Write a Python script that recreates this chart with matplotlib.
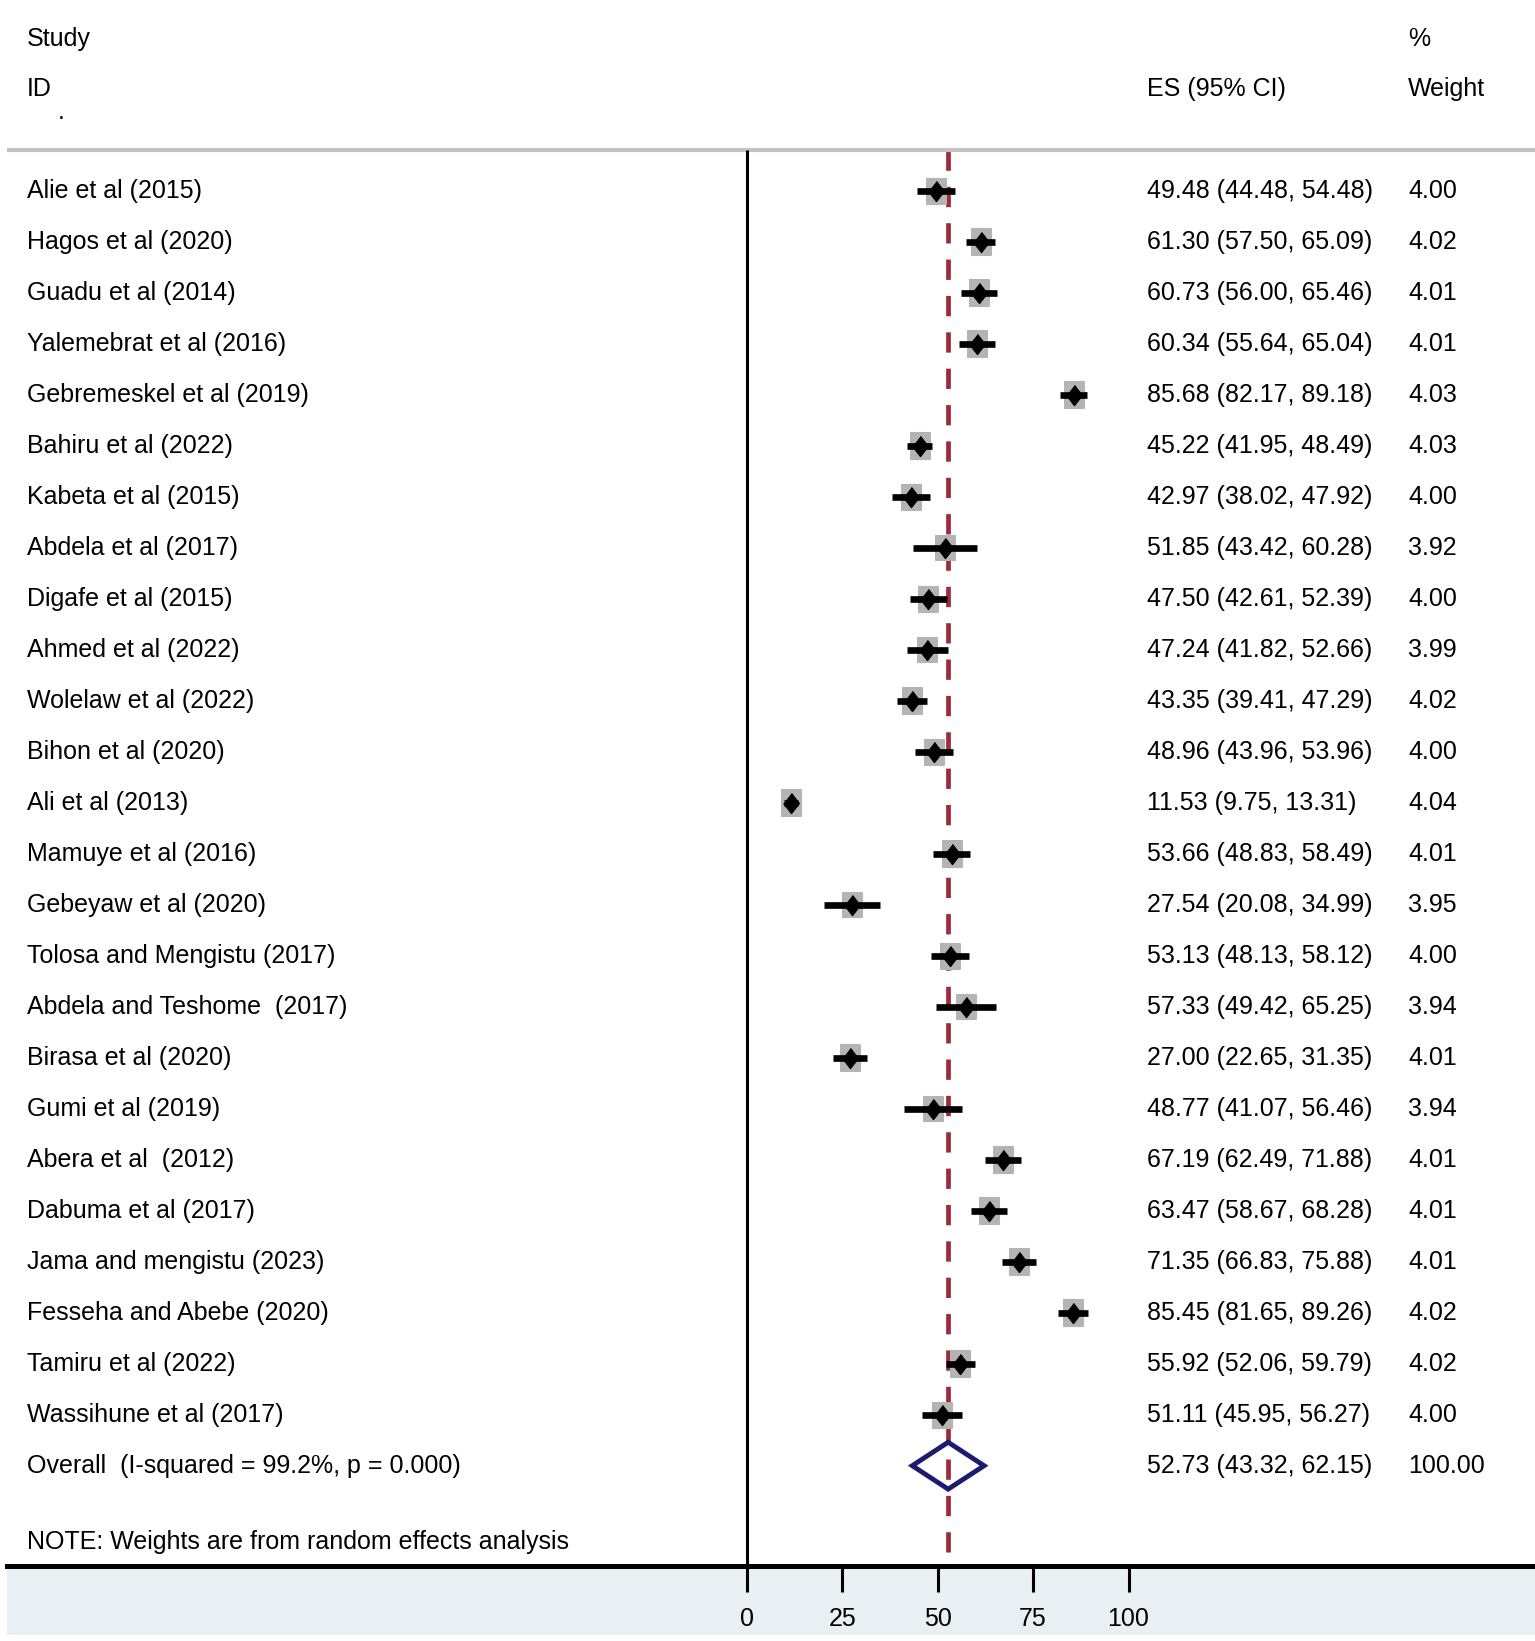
import numpy as np
import matplotlib.pyplot as plt
from matplotlib.patches import Rectangle

plt.rcParams['font.family'] = ['Liberation Sans', 'DejaVu Sans']

# study data
studies = ["Alie et al (2015)", "Hagos et al (2020)", "Guadu et al (2014)",
           "Yalemebrat et al (2016)", "Gebremeskel et al (2019)", "Bahiru et al (2022)",
           "Kabeta et al (2015)", "Abdela et al (2017)", "Digafe et al (2015)",
           "Ahmed et al (2022)", "Wolelaw et al (2022)", "Bihon et al (2020)",
           "Ali et al (2013)", "Mamuye et al (2016)", "Gebeyaw et al (2020)",
           "Tolosa and Mengistu (2017)", "Abdela and Teshome  (2017)", "Birasa et al (2020)",
           "Gumi et al (2019)", "Abera et al  (2012)", "Dabuma et al (2017)",
           "Jama and mengistu (2023)", "Fesseha and Abebe (2020)", "Tamiru et al (2022)",
           "Wassihune et al (2017)"]
es = [49.48, 61.30, 60.73, 60.34, 85.68, 45.22, 42.97, 51.85, 47.50, 47.24, 43.35, 48.96,
      11.53, 53.66, 27.54, 53.13, 57.33, 27.00, 48.77, 67.19, 63.47, 71.35, 85.45, 55.92, 51.11]
lo = [44.48, 57.50, 56.00, 55.64, 82.17, 41.95, 38.02, 43.42, 42.61, 41.82, 39.41, 43.96,
      9.75, 48.83, 20.08, 48.13, 49.42, 22.65, 41.07, 62.49, 58.67, 66.83, 81.65, 52.06, 45.95]
hi = [54.48, 65.09, 65.46, 65.04, 89.18, 48.49, 47.92, 60.28, 52.39, 52.66, 47.29, 53.96,
      13.31, 58.49, 34.99, 58.12, 65.25, 31.35, 56.46, 71.88, 68.28, 75.88, 89.26, 59.79, 56.27]
weight = [4.00, 4.02, 4.01, 4.01, 4.03, 4.03, 4.00, 3.92, 4.00, 3.99, 4.02, 4.00,
          4.04, 4.01, 3.95, 4.00, 3.94, 4.01, 3.94, 4.01, 4.01, 4.01, 4.02, 4.02, 4.00]

overall_label = "Overall  (I-squared = 99.2%, p = 0.000)"
overall_es, overall_lo, overall_hi, overall_w = 52.73, 43.32, 62.15, 100.00
xticks = [0, 25, 50, 75, 100]

# layout in pixels (figure 1535 x 1641)
W, H = 1535, 1641
X0, XSCALE = 747, 3.815        # pixel of x=0, pixels per unit
ROW0, ROWSTEP = 190.7, 51.0    # pixel of first row, row spacing
AX_LEFT, AX_BOTTOM = 7, 1566


def px2x(px):
    return (px - X0) / XSCALE


def px2y(py):
    return (py - ROW0) / ROWSTEP


fig = plt.figure(figsize=(W / 100, H / 100), dpi=100, facecolor='white')
fig.patches.append(Rectangle((AX_LEFT / W, 6 / H), 1 - AX_LEFT / W, (H - AX_BOTTOM - 6) / H,
                             transform=fig.transFigure, facecolor='#e8f0f3', edgecolor='none',
                             zorder=-1))
ax = fig.add_axes([AX_LEFT / W, (H - AX_BOTTOM) / H, 1 - AX_LEFT / W, AX_BOTTOM / H])
ax.set_facecolor('white')
ax.set_xlim(px2x(AX_LEFT), px2x(W))
ax.set_ylim(px2y(AX_BOTTOM), px2y(0))

for s in ['top', 'left', 'right']:
    ax.spines[s].set_visible(False)
ax.spines['bottom'].set_linewidth(3.6)
ax.set_yticks([])
ax.set_xticks(xticks)
ax.set_xticklabels([str(t) for t in xticks])
fs = 18
ax.tick_params(axis='x', direction='out', length=18.5, width=2.2, pad=11, labelsize=fs)

y_gray = px2y(150)
y_bottom = px2y(AX_BOTTOM)
ax.axhline(y_gray, color='#c3c3c3', lw=3, xmin=0.0)
ax.vlines(0, y_gray, y_bottom, color='black', lw=2.2, zorder=2)
ax.vlines(overall_es, y_gray, y_bottom, color='#9e2a3a', lw=3.4,
          linestyles=(0, (4.3, 3.4)), zorder=1)

rows = np.arange(len(studies))
box = [(-0.8, -1), (0.8, -1), (0.8, 1), (-0.8, 1)]
dmd = [(0, 1), (0.78, 0), (0, -1), (-0.78, 0)]
for i in rows:
    ax.plot(es[i], i, marker=box, ms=18 * np.sqrt(weight[i] / 4.0), color='#b4b4b4',
            mec='#b4b4b4', mew=1.5, zorder=3, ls='none')
    ax.plot([lo[i], hi[i]], [i, i], color='black', lw=4.8, solid_capstyle='butt', zorder=4)
    ax.plot(es[i], i, marker=dmd, ms=14.4, color='black', zorder=5, ls='none')

yo = len(studies)
ax.fill([overall_lo, overall_es, overall_hi, overall_es], [yo, yo - 0.46, yo, yo + 0.46],
        facecolor='none', edgecolor='#1c1c6e', lw=3.5, joinstyle='miter', zorder=5)

# text columns
x_lab, x_es, x_w = px2x(27), px2x(1147), px2x(1408)
for i in rows:
    ax.text(x_lab, i, studies[i], fontsize=fs, va='center', ha='left')
    ax.text(x_es, i, f"{es[i]:.2f} ({lo[i]:.2f}, {hi[i]:.2f})", fontsize=fs, va='center')
    ax.text(x_w, i, f"{weight[i]:.2f}", fontsize=fs, va='center')
ax.text(x_lab, yo, overall_label, fontsize=fs, va='center')
ax.text(x_es, yo, f"{overall_es:.2f} ({overall_lo:.2f}, {overall_hi:.2f})", fontsize=fs, va='center')
ax.text(x_w, yo, f"{overall_w:.2f}", fontsize=fs, va='center')

ax.text(x_lab, px2y(39), "Study", fontsize=fs, va='center')
ax.text(x_lab, px2y(89), "ID", fontsize=fs, va='center')
ax.text(px2x(58), px2y(112), ".", fontsize=fs, va='center')
ax.text(x_es, px2y(89), "ES (95% CI)", fontsize=fs, va='center')
ax.text(x_w, px2y(39), "%", fontsize=fs, va='center')
ax.text(x_w, px2y(89), "Weight", fontsize=fs, va='center')
ax.text(x_lab, px2y(1542), "NOTE: Weights are from random effects analysis", fontsize=fs, va='center')

fig.savefig('out.png', dpi=100, facecolor='white')
